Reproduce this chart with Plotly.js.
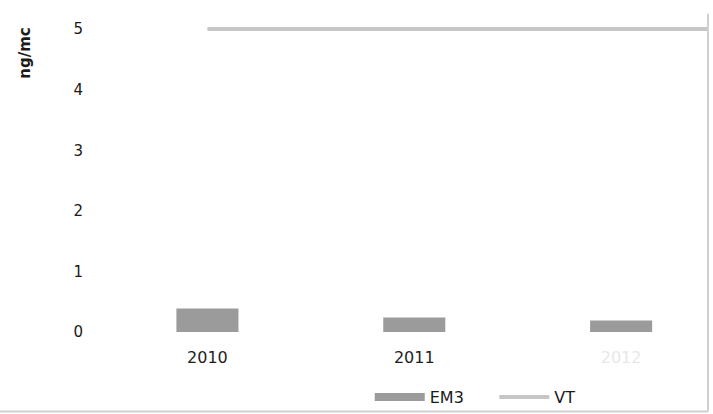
<!DOCTYPE html>
<html>
<head>
<meta charset="utf-8">
<script src="https://cdn.plot.ly/plotly-3.0.1.min.js"></script>
<style>
  html, body { margin: 0; padding: 0; background: #fff; }
  #chart { width: 713px; height: 414px; }
</style>
</head>
<body>
<div id="chart"></div>
<script>
// Annual concentrations (ng/mc) at station EM3 against the limit value VT
const years = ['2010', '2011', '2012'];
const em3 = [0.39, 0.24, 0.19];
const vt = 5;
const yTicks = [0, 1, 2, 3, 4, 5];

const xIdx = years.map((_, i) => i);
const xRange = [-0.5, 2.42];
const yRange = [0, 5.2];

const tickText = years.map((y, i) =>
  i === years.length - 1 ? '<span style="color:#e8e8e8">' + y + '</span>' : y);

const em3Color = '#9b9b9b';
const vtColor = '#c6c6c6';
const pad = '\u00a0\u00a0\u00a0\u00a0\u00a0';

const traces = [
  {
    type: 'bar',
    x: xIdx,
    y: em3,
    width: 0.3,
    marker: { color: em3Color },
    showlegend: false,
    hoverinfo: 'y'
  },
  // legend key for the bar series, drawn as a thick band
  {
    type: 'scatter',
    mode: 'lines',
    name: 'EM3' + pad,
    x: xIdx,
    y: em3.map(() => null),
    line: { color: em3Color, width: 8 },
    hoverinfo: 'skip'
  },
  {
    type: 'scatter',
    mode: 'lines',
    name: 'VT',
    x: [xIdx[0], xRange[1]],
    y: [vt, vt],
    line: { color: vtColor, width: 4 },
    hoverinfo: 'y'
  }
];

const layout = {
  width: 713,
  height: 414,
  margin: { l: 103.5, r: 5, t: 17, b: 82, autoexpand: false },
  paper_bgcolor: '#ffffff',
  plot_bgcolor: '#ffffff',
  font: { family: 'DejaVu Sans, sans-serif', color: '#222222' },
  xaxis: {
    range: xRange,
    tickvals: xIdx,
    ticktext: tickText,
    showgrid: false,
    zeroline: false,
    showline: false,
    ticks: '',
    ticklabelstandoff: 14,
    tickfont: { size: 16, color: '#1e1e1e' },
    fixedrange: true
  },
  yaxis: {
    range: yRange,
    tickvals: yTicks,
    showgrid: false,
    zeroline: false,
    showline: false,
    ticks: '',
    ticklabelstandoff: 20,
    tickfont: { size: 15, color: '#1a1a1a' },
    fixedrange: true
  },
  showlegend: true,
  legend: {
    orientation: 'h',
    x: 0.44,
    xanchor: 'left',
    y: -0.207,
    yanchor: 'middle',
    font: { size: 16, color: '#1a1a1a' },
    itemwidth: 50,
    bgcolor: 'rgba(0,0,0,0)'
  },
  annotations: [
    {
      text: '<b>ng/mc</b>',
      xref: 'paper', yref: 'paper',
      x: -0.13, y: 0.885,
      xanchor: 'center', yanchor: 'middle',
      textangle: -90,
      showarrow: false,
      font: { size: 15, color: '#1a1a1a' }
    }
  ],
  shapes: [
    // chart frame, right and bottom edges
    {
      type: 'line', xref: 'paper', yref: 'paper',
      x0: 1.0, x1: 1.0, y0: 1.01, y1: -0.252,
      line: { color: '#d0d0d0', width: 2 }
    },
    {
      type: 'line', xref: 'paper', yref: 'paper',
      x0: -0.175, x1: 1.0, y0: -0.252, y1: -0.252,
      line: { color: '#d0d0d0', width: 2 }
    }
  ]
};

Plotly.newPlot('chart', traces, layout, { displayModeBar: false, staticPlot: true });
</script>
</body>
</html>
